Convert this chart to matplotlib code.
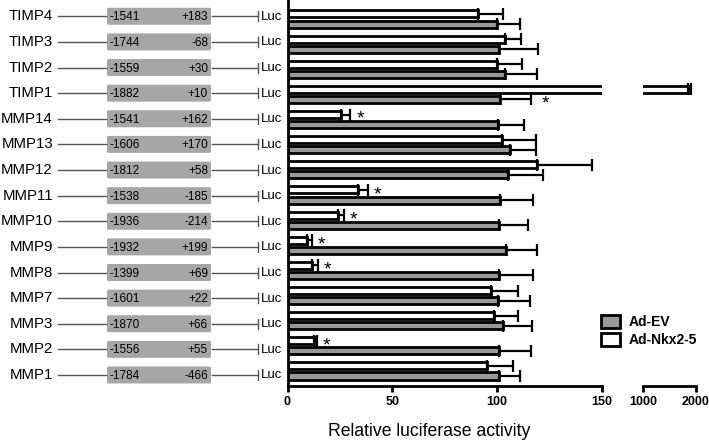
import numpy as np
import matplotlib
matplotlib.use('Agg')
import matplotlib.pyplot as plt
from matplotlib import font_manager
from matplotlib.patches import FancyBboxPatch, Patch

# rows from top to bottom
genes = ['TIMP4', 'TIMP3', 'TIMP2', 'TIMP1', 'MMP14', 'MMP13', 'MMP12', 'MMP11',
         'MMP10', 'MMP9', 'MMP8', 'MMP7', 'MMP3', 'MMP2', 'MMP1']
prom_start = ['-1541', '-1744', '-1559', '-1882', '-1541', '-1606', '-1812', '-1538',
              '-1936', '-1932', '-1399', '-1601', '-1870', '-1556', '-1784']
prom_end = ['+183', '-68', '+30', '+10', '+162', '+170', '+58', '-185',
            '-214', '+199', '+69', '+22', '+66', '+55', '-466']

ev_mean = [100, 101, 103.5, 101.5, 100.5, 106, 105, 101.5, 101, 104, 101, 100.5, 103, 101, 101]
ev_err = [11, 18.5, 15.5, 14.5, 12.5, 12.5, 17, 15.5, 13.5, 15, 16, 15, 13.5, 15, 10]
nkx_mean = [91, 103.5, 100, 1850, 25.5, 102.5, 119, 33.5, 24, 9.5, 11.5, 97, 98.5, 12.5, 95]
nkx_err = [12, 8, 12, 55, 4.5, 16, 26, 5, 3, 2, 3, 13, 11.5, 1.5, 12.5]

sig_nkx = ['MMP14', 'MMP11', 'MMP10', 'MMP9', 'MMP8', 'MMP2']
sig_ev = ['TIMP1']


def have_font(name):
    try:
        font_manager.findfont(font_manager.FontProperties(family=name),
                              fallback_to_default=False)
        return True
    except Exception:
        return False


# condensed bold font for the axis numbers, like the original
if have_font('Liberation Sans Narrow'):
    narrow = ['Liberation Sans Narrow', 'Liberation Sans']
    tick_fs, leg_fs = 10.5, 12
else:
    narrow = ['Liberation Sans', 'DejaVu Sans']
    tick_fs, leg_fs = 9, 10
sans = ['Liberation Sans', 'DejaVu Sans']

W, H = 709, 440
fig = plt.figure(figsize=(W / 100, H / 100), dpi=100)

bot = 54 / H
hgt = 386 / H
n = len(genes)
ypos = np.arange(n)[::-1]  # TIMP4 at top
ylim_bars = (-0.597, n - 1 + 0.756)

ax = fig.add_axes([287.5 / W, bot, (602 - 287.5) / W, hgt])
ax2 = fig.add_axes([643 / W, bot, (696 - 643) / W, hgt])
axs = fig.add_axes([0, bot, 287.5 / W, hgt])

grey = '#999999'
bh = 0.28
off = 0.2
for a in (ax, ax2):
    a.barh(ypos + off, nkx_mean, height=bh, color='white', edgecolor='black', linewidth=2)
    a.barh(ypos - off, ev_mean, height=bh, color=grey, edgecolor='black', linewidth=2)
    a.errorbar(nkx_mean, ypos + off, xerr=[np.zeros(n), nkx_err], fmt='none',
               ecolor='black', elinewidth=1.6, capsize=4.5, capthick=1.6)
    a.errorbar(ev_mean, ypos - off, xerr=[np.zeros(n), ev_err], fmt='none',
               ecolor='black', elinewidth=1.6, capsize=4.5, capthick=1.6)
    a.set_ylim(*ylim_bars)
    a.set_yticks([])
    for s in ('top', 'right'):
        a.spines[s].set_visible(False)
    a.spines['bottom'].set_linewidth(2)
    a.spines['left'].set_linewidth(2)
    a.tick_params(axis='x', direction='out', length=4, width=2, pad=3)

ax.set_xlim(0, 150)
ax.set_xticks([0, 50, 100, 150])
ax2.set_xlim(1000, 2000)
ax2.set_xticks([1000, 2000])
ax2.spines['left'].set_visible(False)
for a in (ax, ax2):
    for lab in a.get_xticklabels():
        lab.set_family(narrow)
        lab.set_fontweight('bold')
        lab.set_fontsize(tick_fs)

# significance stars
for i, g in enumerate(genes):
    if g in sig_nkx:
        ax.annotate('*', (nkx_mean[i] + nkx_err[i], ypos[i] + off), xytext=(7, -3.5),
                    textcoords='offset points', ha='center', va='center',
                    fontsize=14, family=sans)
    if g in sig_ev:
        ax.annotate('*', (ev_mean[i] + ev_err[i], ypos[i] - off), xytext=(10.5, -3.5),
                    textcoords='offset points', ha='center', va='center',
                    fontsize=14, family=sans)

# promoter schematic on the left
axs.set_xlim(0, 287.5)
axs.set_ylim(-0.43, n - 1 + 0.636)
axs.axis('off')
sp = 25.62
for i, g in enumerate(genes):
    y = ypos[i]
    axs.text(53, y, g, ha='right', va='center', fontsize=10.8, family=sans)
    axs.plot([58, 106], [y, y], color='#555555', lw=1)
    axs.plot([212, 258], [y, y], color='#555555', lw=1)
    axs.plot([258, 258], [y - 5 / sp, y + 5 / sp], color='#555555', lw=1)
    box = FancyBboxPatch((107, y - 8.5 / sp), 104, 17 / sp,
                         boxstyle='round,pad=0,rounding_size=1.5',
                         mutation_aspect=1 / sp, facecolor='#a6a6a6', edgecolor='none')
    axs.add_patch(box)
    axs.text(110, y - 0.04, prom_start[i], ha='left', va='center', fontsize=8.5, family=sans)
    axs.text(208, y - 0.04, prom_end[i], ha='right', va='center', fontsize=8.5, family=sans)
    axs.text(261, y - 0.02, 'Luc', ha='left', va='center', fontsize=9.5, family=sans)

fig.text(429 / W, 1 - 431 / H, 'Relative luciferase activity', ha='center', va='center',
         fontsize=12.7, family=sans)

handles = [Patch(facecolor=grey, edgecolor='black', linewidth=2, label='Ad-EV'),
           Patch(facecolor='white', edgecolor='black', linewidth=2, label='Ad-Nkx2-5')]
fig.legend(handles=handles, loc='upper left', bbox_to_anchor=(601 / W, 1 - 315 / H),
           frameon=False, borderpad=0, borderaxespad=0, handlelength=1.35 * 10 / leg_fs,
           handleheight=1.05 * 10 / leg_fs, handletextpad=0.65 * 10 / leg_fs,
           labelspacing=0.25 * 10 / leg_fs,
           prop={'family': narrow, 'weight': 'bold', 'size': leg_fs})

fig.savefig('out.png', dpi=100)
